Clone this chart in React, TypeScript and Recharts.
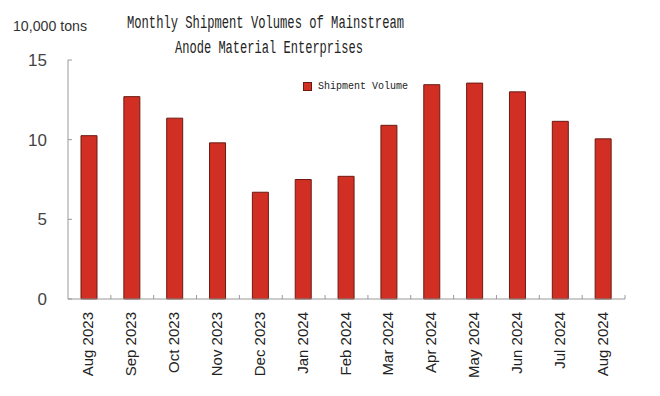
import { BarChart, Bar, XAxis, YAxis } from 'recharts'

const months = [
  'Aug 2023', 'Sep 2023', 'Oct 2023', 'Nov 2023', 'Dec 2023', 'Jan 2024', 'Feb 2024',
  'Mar 2024', 'Apr 2024', 'May 2024', 'Jun 2024', 'Jul 2024', 'Aug 2024',
]
const shipments = [10.25, 12.7, 11.35, 9.8, 6.7, 7.5, 7.7, 10.9, 13.45, 13.55, 13.0, 11.15, 10.05]
const yTicks = [0, 5, 10, 15]

const W = 660
const H = 396
const margin = { top: 60, right: 35, bottom: 0, left: 0 }
const yAxisWidth = 68
const band = (W - yAxisWidth - margin.right) / months.length

const data = months.map((m, i) => ({ month: m, value: shipments[i] }))

const sans = "'Liberation Sans', Arial, sans-serif"
const mono = "'Liberation Mono', 'DejaVu Sans Mono', monospace"

const XTick = (props: any) => {
  const { x, y, payload } = props
  return (
    <g>
      <line x1={x + band / 2} y1={y} x2={x + band / 2} y2={y - 4} stroke="#999" />
      <text
        x={0}
        y={0}
        transform={`translate(${x + 4},${y + 13}) rotate(-90)`}
        textAnchor="end"
        fontFamily={sans}
        fontSize={15}
        fill="#222"
      >
        {payload.value}
      </text>
    </g>
  )
}

const YTick = (props: any) => {
  const { x, y, payload } = props
  return (
    <g>
      <line x1={x} y1={y} x2={x + 4} y2={y} stroke="#999" />
      <text x={x - 21} y={y + 6} textAnchor="end" fontFamily={sans} fontSize={17} fill="#444">
        {payload.value}
      </text>
    </g>
  )
}

export default function App() {
  return (
    <div style={{ position: 'relative', width: W, height: H, background: '#fff' }}>
      <style>{'body{margin:0}'}</style>
      <svg width={W} height={60} style={{ position: 'absolute', left: 0, top: 0 }}>
        <text x={13} y={31} fontFamily={sans} fontSize={15} fill="#333" textLength={74} lengthAdjust="spacingAndGlyphs">
          10,000 tons
        </text>
        <text x={127} y={28} fontFamily={mono} fontSize={18} fill="#222" textLength={277} lengthAdjust="spacingAndGlyphs">
          Monthly Shipment Volumes of Mainstream
        </text>
        <text x={175} y={53} fontFamily={mono} fontSize={18} fill="#222" textLength={188} lengthAdjust="spacingAndGlyphs">
          Anode Material Enterprises
        </text>
      </svg>
      <div style={{ position: 'absolute', left: 0, top: 0 }}>
        <BarChart width={W} height={H} data={data} margin={margin} barCategoryGap={0}>
          <XAxis
            dataKey="month"
            interval={0}
            axisLine={{ stroke: '#999' }}
            tickLine={false}
            tickSize={0}
            tickMargin={0}
            height={H - 299}
            tick={<XTick />}
          />
          <YAxis
            domain={[0, 15]}
            ticks={yTicks}
            width={yAxisWidth}
            axisLine={{ stroke: '#999' }}
            tickLine={false}
            tickSize={0}
            tickMargin={0}
            tick={<YTick />}
          />
          <Bar dataKey="value" name="Shipment Volume" fill="#d22f24" stroke="#6b1a10" strokeWidth={1} barSize={16} isAnimationActive={false} />
        </BarChart>
      </div>
      <div
        style={{
          position: 'absolute', left: 303, top: 81, display: 'flex', alignItems: 'center',
          fontFamily: mono, fontSize: 10, color: '#222',
        }}
      >
        <span style={{ width: 7, height: 7, background: '#d22f24', border: '1px solid #6b1a10', marginRight: 6 }} />
        Shipment Volume
      </div>
    </div>
  )
}
